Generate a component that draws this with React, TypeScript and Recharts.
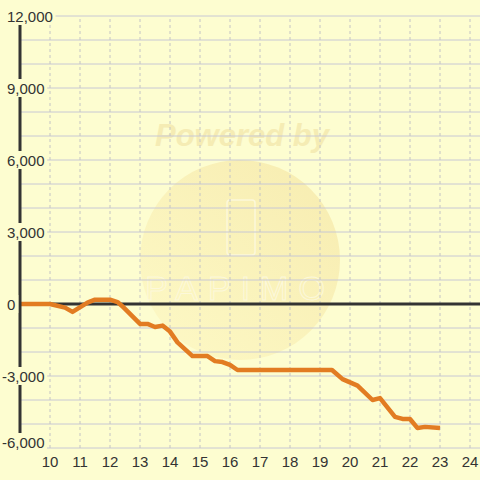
import React from "react"
import { LineChart, Line, XAxis, YAxis, ReferenceLine } from "recharts"

// hour of day and running balance
const hours = [9, 10, 10.5, 10.75, 11.25, 11.5, 12, 12.25, 12.4, 13, 13.25, 13.5, 13.75, 14, 14.25, 14.75, 15.25, 15.5, 15.75, 16, 16.25, 19.4, 19.75, 20.25, 20.75, 21, 21.5, 21.75, 22, 22.25, 22.5, 23]
const balance = [0, 0, -150, -330, 60, 180, 180, 80, -80, -830, -830, -960, -900, -1150, -1600, -2170, -2170, -2380, -2420, -2540, -2750, -2750, -3130, -3400, -4000, -3920, -4700, -4790, -4790, -5170, -5120, -5170]

const xTicks = [10, 11, 12, 13, 14, 15, 16, 17, 18, 19, 20, 21, 22, 23, 24]
const yTicks = [-6000, -3000, 0, 3000, 6000, 9000, 12000]
const yGrid = [-6000, -5000, -4000, -3000, -2000, -1000, 1000, 2000, 3000, 4000, 5000, 6000, 7000, 8000, 9000, 10000, 11000, 12000]

const data = hours.map((h, i) => ({ h, v: balance[i] }))

const BG = "#fdfdd0"
const FONT = "'Liberation Sans', Arial, sans-serif"

const YTick = (props: any) => {
  const { y, payload } = props
  const label = Number(payload.value).toLocaleString("en-US")
  const neg = payload.value < 0
  const bottom = payload.value === yTicks[0]
  const x0 = neg ? 2 : 7
  const ty = bottom ? y - 6 : y
  const w = label.replace(/[,-]/g, "").length * 8.3 + (label.includes(",") ? 4 : 0) + (neg ? 5 : 0)
  return (
    <g>
      <rect x={x0 - 2} y={ty - 9} width={bottom ? 49 - x0 : w + 5} height={bottom ? 17 : 18} fill={BG} />
      <text x={x0} y={ty} dy={5.5} textAnchor="start" fontSize={15} fill="#333" fontFamily={FONT}>
        {label}
      </text>
    </g>
  )
}

const XTick = (props: any) => {
  const { x, y, payload } = props
  return (
    <text x={x} y={y} dy={11} textAnchor="middle" fontSize={15} fill="#333" fontFamily={FONT}>
      {payload.value}
    </text>
  )
}

function Watermark() {
  return (
    <svg width={480} height={480} style={{ position: "absolute", left: 0, top: 0 }}>
      <defs>
        <linearGradient id="wm" x1="0" y1="1" x2="1" y2="0">
          <stop offset="0%" stopColor="#fdf9c6" />
          <stop offset="100%" stopColor="#f7ecb0" />
        </linearGradient>
      </defs>
      <circle cx={240} cy={260} r={100} fill="url(#wm)" />
      <text
        x={242}
        y={146}
        textAnchor="middle"
        fontSize={31}
        fontWeight="bold"
        fontStyle="italic"
        fill="#f5ecb4"
        fontFamily={FONT}
      >
        Powered by
      </text>
      <rect x={227} y={200} width={28} height={55} rx={3} fill="none" stroke="#fcf8da" strokeWidth={1.5} />
      <text x={240} y={300} textAnchor="middle" fontSize={34} fill="none" stroke="#fcf8da" strokeWidth={1} letterSpacing={10} fontFamily={FONT}>
        PAPIMO
      </text>
    </svg>
  )
}

export default function App() {
  return (
    <div style={{ position: "absolute", left: 0, top: 0, width: 480, height: 480, background: BG }}>
      <Watermark />
      <div style={{ position: "absolute", left: 0, top: 0 }}>
        <LineChart width={480} height={480} data={data} margin={{ top: 16, right: 0, bottom: 0, left: 0 }}>
          <XAxis
            dataKey="h"
            type="number"
            domain={[9, 24.333]}
            ticks={xTicks}
            allowDataOverflow
            axisLine={false}
            tickLine={false}
            height={32}
            tick={<XTick />}
            interval={0}
          />
          <YAxis
            type="number"
            domain={[-6000, 12000]}
            ticks={yTicks}
            width={20}
            tickLine={false}
            axisLine={{ stroke: "#333", strokeWidth: 3 }}
            tick={<YTick />}
            interval={0}
          />
          {yGrid.map((g) => (
            <ReferenceLine key={`h${g}`} y={g} stroke="#c8c8d4" />
          ))}
          {xTicks.map((t) => (
            <ReferenceLine key={`v${t}`} x={t} stroke="#c4c4c4" strokeDasharray="3 3" />
          ))}
          <ReferenceLine y={0} stroke="#333" strokeWidth={3} />
          <Line
            dataKey="v"
            type="linear"
            stroke="#e27c22"
            strokeWidth={4.5}
            dot={false}
            strokeLinejoin="round"
            isAnimationActive={false}
          />
        </LineChart>
      </div>
    </div>
  )
}
